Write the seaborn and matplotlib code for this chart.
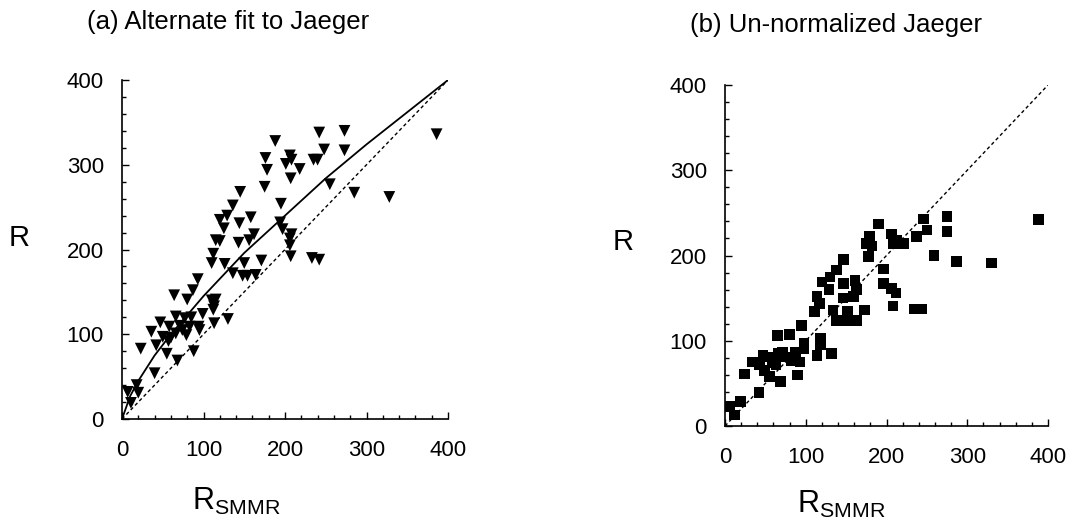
import matplotlib
matplotlib.use("Agg")
import matplotlib.pyplot as plt
import seaborn as sns
import pandas as pd
from matplotlib.ticker import MultipleLocator

# ---------------- data ----------------
a_x = [386, 242, 273, 188, 248, 273, 176, 206, 201, 208, 235, 240, 218, 178, 207,
       255, 285, 328, 175, 145, 136, 195, 120, 129, 125, 144, 158, 194, 197, 115,
       120, 143, 156, 162, 208, 206, 206, 112, 110, 126, 150, 171, 207, 233, 242,
       136, 148, 154, 164, 93, 87, 64, 80, 110, 115, 113, 112, 66, 77, 85, 99, 130,
       47, 58, 71, 83, 95, 113, 36, 50, 60, 66, 74, 79, 42, 57, 23, 55, 88, 68, 40,
       7, 18, 20, 11, 94]
a_y = [336, 338, 340, 328, 318, 317, 308, 311, 301, 306, 306, 306, 295, 294, 284,
       277, 267, 262, 274, 268, 252, 254, 235, 240, 225, 231, 238, 232, 224, 211,
       210, 208, 211, 218, 218, 213, 205, 195, 184, 183, 184, 187, 192, 190, 188,
       172, 169, 169, 170, 165, 152, 146, 141, 140, 141, 133, 129, 121, 119, 120,
       124, 118, 114, 109, 110, 109, 105, 113, 103, 97, 96, 101, 105, 99, 87, 92,
       83, 77, 80, 69, 54, 32, 40, 31, 19, 109]

fit_x = [0, 10, 20, 40, 60, 100, 150, 200, 250, 300, 350, 400]
fit_y = [0, 27, 45, 75, 100, 145, 196, 240, 284, 324, 362, 400]

diag = [0, 400]

b_x = [388, 246, 275, 190, 275, 250, 237, 206, 213, 221, 209, 179, 182, 178, 259,
       287, 330, 196, 196, 206, 212, 208, 235, 244, 147, 138, 130, 120, 114, 117,
       111, 129, 147, 161, 163, 159, 146, 134, 138, 152, 152, 163, 173, 95, 80, 65,
       118, 118, 114, 132, 98, 87, 82, 93, 71, 66, 56, 47, 34, 43, 58, 49, 55, 69,
       90, 24, 42, 19, 6, 12, 175, 98, 63, 76]
b_y = [242, 243, 246, 237, 228, 230, 222, 225, 218, 214, 214, 223, 211, 199, 200,
       193, 191, 184, 167, 161, 156, 141, 137, 137, 195, 183, 175, 169, 152, 144,
       134, 160, 167, 171, 160, 152, 150, 136, 124, 134, 124, 124, 136, 118, 107,
       106, 103, 95, 83, 85, 91, 87, 77, 75, 87, 85, 81, 83, 75, 72, 74, 65, 58, 52,
       60, 61, 39, 29, 23, 13, 214, 97, 72, 81]

ticks = [0, 100, 200, 300, 400]
title_a = "(a) Alternate fit to Jaeger"
title_b = "(b) Un-normalized Jaeger"

# ---------------- style ----------------
sns.set_style("white")
plt.rcParams['font.family'] = ['Liberation Sans', 'DejaVu Sans']
plt.rcParams['mathtext.fontset'] = 'custom'
plt.rcParams['mathtext.rm'] = 'Liberation Sans'
plt.rcParams['mathtext.it'] = 'Liberation Sans'
plt.rcParams['text.color'] = 'black'
plt.rcParams['xtick.labelcolor'] = 'black'
plt.rcParams['ytick.labelcolor'] = 'black'

fig = plt.figure(figsize=(10.74, 5.19), dpi=100)
fig.patch.set_facecolor("white")

ax_a = fig.add_axes([122/1074, 1-419/519, 326/1074, 339/519])
ax_b = fig.add_axes([725/1074, 1-426/519, 323/1074, 341/519])

df_a = pd.DataFrame({"x": a_x, "y": a_y})
df_b = pd.DataFrame({"x": b_x, "y": b_y})
df_fit = pd.DataFrame({"x": fit_x, "y": fit_y})

# panel a
sns.lineplot(x=diag, y=diag, ax=ax_a, color="black", lw=1.0,
             linestyle=(0, (2.5, 2)))
sns.lineplot(data=df_fit, x="x", y="y", ax=ax_a, color="black", lw=1.3)
sns.scatterplot(data=df_a, x="x", y="y", ax=ax_a, marker="v", s=72,
                color="black", edgecolor="none", clip_on=False)

# panel b
sns.lineplot(x=diag, y=diag, ax=ax_b, color="black", lw=1.0,
             linestyle=(0, (2.5, 2)))
sns.scatterplot(data=df_b, x="x", y="y", ax=ax_b, marker="s", s=58,
                color="black", edgecolor="none", clip_on=False)

for ax in (ax_a, ax_b):
    ax.set_xlim(0, 400)
    ax.set_ylim(0, 400)
    ax.set_xticks(ticks)
    ax.set_yticks(ticks)
    ax.set_xticklabels([str(t) for t in ticks])
    ax.set_yticklabels([str(t) for t in ticks])
    ax.xaxis.set_minor_locator(MultipleLocator(20))
    ax.yaxis.set_minor_locator(MultipleLocator(20))
    ax.tick_params(which="major", direction="in", length=5, width=1,
                   colors="black", labelsize=16, bottom=True, left=True)
    ax.tick_params(axis="x", which="major", pad=15)
    ax.tick_params(axis="y", which="major", pad=13)
    ax.tick_params(which="minor", direction="in", length=3, width=1,
                   colors="black", bottom=True, left=True)
    for side in ("top", "right"):
        ax.spines[side].set_visible(False)
    for side in ("left", "bottom"):
        ax.spines[side].set_color("black")
        ax.spines[side].set_linewidth(1.2)
    ax.set_xlabel("")
    ax.set_ylabel("")
    ax.set_facecolor("white")

# titles and axis labels
fig.text(228/1074, 1-22/519, title_a, ha="center", va="center", fontsize=18.5,
         color="black")
fig.text(836/1074, 1-25/519, title_b, ha="center", va="center", fontsize=18.5,
         color="black")

fig.text(19/1074, 1-238/519, "R", ha="center", va="center", fontsize=21,
         color="black")
fig.text(623/1074, 1-242/519, "R", ha="center", va="center", fontsize=21,
         color="black")

fig.text(236/1074, 1-501/519, r"R$_{\mathrm{SMMR}}$", ha="center", va="center",
         fontsize=22, color="black")
fig.text(841/1074, 1-504/519, r"R$_{\mathrm{SMMR}}$", ha="center", va="center",
         fontsize=22, color="black")

fig.savefig("out.png", dpi=100, facecolor="white")
